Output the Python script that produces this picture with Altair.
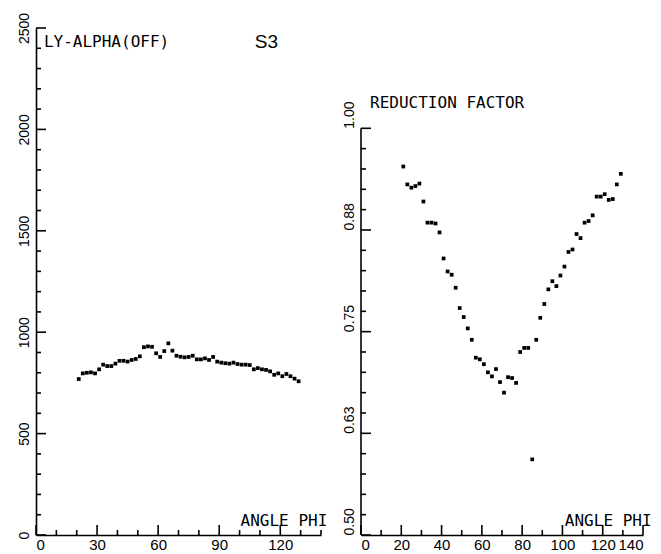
import altair as alt
import pandas as pd

# ---- data ----
angles = [21, 23, 25, 27, 29, 31, 33, 35, 37, 39, 41, 43, 45, 47, 49, 51, 53, 55, 57, 59,
          61, 63, 65, 67, 69, 71, 73, 75, 77, 79, 81, 83, 85, 87, 89, 91, 93, 95, 97, 99,
          101, 103, 105, 107, 109, 111, 113, 115, 117, 119, 121, 123, 125, 127, 129]

ly_alpha_off = [769, 797, 800, 802, 797, 817, 840, 833, 833, 845,
                859, 859, 855, 863, 868, 881, 926, 930, 928, 896,
                878, 907, 945, 909, 884, 879, 876, 878, 884, 866,
                866, 871, 863, 878, 855, 850, 847, 845, 850, 843,
                840, 840, 838, 817, 823, 817, 814, 807, 790, 797,
                783, 794, 783, 771, 758]

reduction_factor = [0.953, 0.931, 0.927, 0.929, 0.932, 0.910, 0.884, 0.884, 0.883, 0.872,
                    0.840, 0.824, 0.820, 0.804, 0.779, 0.768, 0.754, 0.740, 0.718, 0.716,
                    0.710, 0.700, 0.695, 0.704, 0.688, 0.675, 0.694, 0.693, 0.687, 0.725,
                    0.730, 0.730, 0.593, 0.740, 0.767, 0.784, 0.802, 0.812, 0.806, 0.819,
                    0.830, 0.848, 0.851, 0.870, 0.865, 0.884, 0.886, 0.893, 0.916, 0.916,
                    0.919, 0.912, 0.913, 0.931, 0.944]

left_y_labels = [0, 500, 1000, 1500, 2000, 2500]
left_x_labels = [0, 30, 60, 90, 120]
right_y_labels = [0.5, 0.625, 0.75, 0.875, 1.0]
right_x_labels = [0, 20, 40, 60, 80, 100, 120, 140]

left_y_minor = [v for v in range(0, 2501, 100) if v % 500]
left_x_minor = [v for v in range(0, 141, 10) if v % 30]
right_y_minor = [round(0.5 + 0.025 * i, 3) for i in range(21) if i % 5]
right_x_minor = [v for v in range(0, 141, 10) if v % 20]

W1, W2, H = 285, 282, 507
LBL = "Liberation Sans"
MONO = "DejaVu Sans Mono"
LW = 1.6


def x_axis(values):
    return alt.Axis(values=values, title=None, grid=False, ticks=False, domain=True,
                    domainColor="black", domainWidth=LW, labelFont=LBL, labelFontSize=15,
                    labelColor="black", labelPadding=2, labelAngle=0, labelFlush=True,
                    labelOverlap=False)


def y_axis(values, fmt, align, domain=True):
    return alt.Axis(values=values, format=fmt, title=None, grid=False, ticks=False,
                    domain=domain, domainColor="black", domainWidth=LW, labelFont=LBL,
                    labelFontSize=14, labelColor="black", labelPadding=5, labelAngle=270,
                    labelAlign=align, labelBaseline="bottom", labelOverlap=False,
                    labelFlush=False)


def ticks(vals, axis, xs, ys, ymin, length):
    # tick marks drawn as line-shaped symbols; symbol path units span sqrt(size)/2 px
    d = pd.DataFrame({"v": vals})
    size = (2 * length) ** 2
    if axis == "y":
        return alt.Chart(d).mark_point(
            shape="M0,0L1,0", filled=False, color="black", strokeWidth=LW,
            size=size, opacity=1).encode(
            y=alt.Y("v:Q", scale=ys, axis=None),
            x=alt.X(datum=0, scale=xs, axis=None))
    return alt.Chart(d).mark_point(
        shape="M0,0L0,-1", filled=False, color="black", strokeWidth=LW,
        size=size, opacity=1).encode(
        x=alt.X("v:Q", scale=xs, axis=None),
        y=alt.Y(datum=ymin, scale=ys, axis=None))


def label(text, x, y, xs, ys, font=MONO, size=16):
    return alt.Chart(pd.DataFrame({"t": [text]})).mark_text(
        font=font, fontSize=size, align="left", baseline="middle", color="black"
    ).encode(x=alt.X(datum=x, scale=xs, axis=None), y=alt.Y(datum=y, scale=ys, axis=None),
             text="t:N")


df = pd.DataFrame({"angle": angles, "ly": ly_alpha_off, "red": reduction_factor})

x1 = alt.Scale(domain=[0, 140], nice=False, zero=False)
y1 = alt.Scale(domain=[0, 2500], nice=False, zero=False)
x2 = alt.Scale(domain=[0, 140], nice=False, zero=False)
y2 = alt.Scale(domain=[0.5, 0.5 + 507 / 813.4], nice=False, zero=False)

left_pts = alt.Chart(df).mark_square(size=14, color="black", opacity=1).encode(
    x=alt.X("angle:Q", scale=x1, axis=x_axis(left_x_labels)),
    y=alt.Y("ly:Q", scale=y1, axis=y_axis(left_y_labels, "d", "center")),
)

left = alt.layer(
    left_pts,
    ticks(left_y_labels, "y", x1, y1, 0, 10),
    ticks(left_y_minor, "y", x1, y1, 0, 5),
    ticks(left_x_labels, "x", x1, y1, 0, 10),
    ticks(left_x_minor, "x", x1, y1, 0, 5),
    label("LY-ALPHA(OFF)", 3.9, 2431, x1, y1),
    label("S3", 107.5, 2431, x1, y1, font=LBL, size=19),
    label("ANGLE PHI", 100.5, 69, x1, y1),
).resolve_axis(x="independent", y="independent").properties(width=W1, height=H)

right_pts = alt.Chart(df).mark_square(size=14, color="black", opacity=1).encode(
    x=alt.X("angle:Q", scale=x2, axis=x_axis(right_x_labels)),
    y=alt.Y("red:Q", scale=y2, axis=y_axis(right_y_labels, ".2f", "left", domain=False)),
)

right_domain = alt.Chart(pd.DataFrame({"a": [0.5], "b": [1.0]})).mark_rule(
    color="black", strokeWidth=LW).encode(
    x=alt.value(0), y=alt.Y("a:Q", scale=y2, axis=None), y2="b:Q")

right = alt.layer(
    right_pts,
    right_domain,
    ticks(right_y_labels, "y", x2, y2, 0.5, 10),
    ticks(right_y_minor, "y", x2, y2, 0.5, 5),
    ticks(right_x_labels, "x", x2, y2, 0.5, 10),
    ticks(right_x_minor, "x", x2, y2, 0.5, 5),
    label("REDUCTION FACTOR", 4.5, 1.031, x2, y2),
    label("ANGLE PHI", 101.2, 0.517, x2, y2),
).resolve_axis(x="independent", y="independent").properties(width=W2, height=H)

chart = alt.hconcat(left, right, spacing=14).properties(
    padding={"left": 8, "top": 4, "right": 0, "bottom": 0},
    background="white",
).configure_view(stroke=None)

chart.save("out.html", embed_options={"renderer": "svg", "actions": False})
